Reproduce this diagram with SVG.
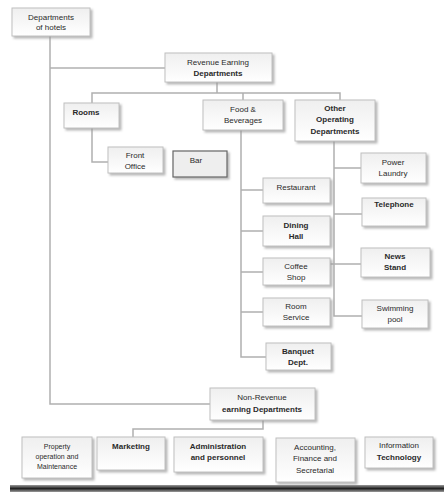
<svg xmlns="http://www.w3.org/2000/svg" width="444" height="493" viewBox="0 0 444 493">
<defs>
<linearGradient id="bx" x1="0" y1="0" x2="0" y2="1">
<stop offset="0" stop-color="#efefef"/><stop offset="1" stop-color="#ffffff"/>
</linearGradient>
<linearGradient id="bar" x1="0" y1="0" x2="0" y2="1">
<stop offset="0" stop-color="#9a9a9a"/><stop offset="0.5" stop-color="#222"/><stop offset="1" stop-color="#9a9a9a"/>
</linearGradient>
<filter id="sh" x="-10%" y="-10%" width="130%" height="140%">
<feDropShadow dx="2" dy="2" stdDeviation="0.8" flood-color="#999" flood-opacity="0.7"/>
</filter>
</defs>
<style>
.b{fill:url(#bx);stroke:#c0c0c0;stroke-width:1;filter:url(#sh)}
.dk{fill:#eeeeee;stroke:#666;stroke-width:1.2;filter:url(#sh)}
.t{font-family:"Liberation Sans",Arial,sans-serif;font-size:8px;fill:#2a2a2a;text-anchor:middle}
.bd{font-weight:bold}
#connectors path{fill:none;stroke:#b0b0b0;stroke-width:1.5}
</style>
<rect width="444" height="493" fill="#ffffff"/>
<g id="connectors">
<path d="M50 36 V404 H210"/>
<path d="M50 68 H165"/>
<path d="M217 82 V93 M92 103 V93 H340 V100 M243 93 V100"/>
<path d="M92 128 V162 H108"/>
<path d="M241 130 V357 H266 M241 190 H263 M241 231 H263 M241 272 H263 M241 312 H263"/>
<path d="M334 141 V316 H362 M334 168 H361 M334 214 H362 M330 264 H361"/>
<path d="M263 420 V429 H133 V437"/>
</g>
<g id="n-hotels"><rect class="b" x="12" y="8" width="78" height="28"/><text class="t" x="51" y="20">Departments</text><text class="t" x="51" y="30">of hotels</text></g>
<g id="n-revenue"><rect class="b" x="165" y="53" width="107" height="29"/><text class="t" x="218" y="65">Revenue Earning</text><text class="t bd" x="218" y="76">Departments</text></g>
<g id="n-rooms"><rect class="b" x="64" y="103" width="55" height="25"/><text class="t bd" x="86" y="115">Rooms</text></g>
<g id="n-fb"><rect class="b" x="203" y="100" width="80" height="30"/><text class="t" x="243" y="112">Food &amp;</text><text class="t" x="243" y="123">Beverages</text></g>
<g id="n-other"><rect class="b" x="295" y="100" width="80" height="41"/><text class="t bd" x="335" y="111">Other</text><text class="t bd" x="335" y="122">Operating</text><text class="t bd" x="335" y="134">Departments</text></g>
<g id="n-front"><rect class="b" x="108" y="147" width="55" height="26"/><text class="t" x="135" y="158">Front</text><text class="t" x="135" y="169">Office</text></g>
<g id="n-bar"><rect class="dk" x="173" y="151" width="54" height="26"/><text class="t" x="196" y="163">Bar</text></g>
<g id="n-restaurant"><rect class="b" x="263" y="178" width="67" height="25"/><text class="t" x="296" y="190">Restaurant</text></g>
<g id="n-dining"><rect class="b" x="263" y="216" width="67" height="30"/><text class="t bd" x="296" y="228">Dining</text><text class="t bd" x="296" y="239">Hall</text></g>
<g id="n-coffee"><rect class="b" x="263" y="258" width="67" height="27"/><text class="t" x="296" y="269">Coffee</text><text class="t" x="296" y="280">Shop</text></g>
<g id="n-roomservice"><rect class="b" x="263" y="298" width="67" height="28"/><text class="t" x="296" y="309">Room</text><text class="t" x="296" y="320">Service</text></g>
<g id="n-banquet"><rect class="b" x="266" y="343" width="65" height="27"/><text class="t bd" x="298" y="354">Banquet</text><text class="t bd" x="298" y="365">Dept.</text></g>
<g id="n-laundry"><rect class="b" x="361" y="153" width="65" height="30"/><text class="t" x="393" y="165">Power</text><text class="t" x="393" y="176">Laundry</text></g>
<g id="n-telephone"><rect class="b" x="362" y="198" width="64" height="28"/><text class="t bd" x="394" y="207">Telephone</text></g>
<g id="n-news"><rect class="b" x="361" y="248" width="69" height="29"/><text class="t bd" x="395" y="259">News</text><text class="t bd" x="395" y="270">Stand</text></g>
<g id="n-pool"><rect class="b" x="362" y="300" width="66" height="28"/><text class="t" x="395" y="311">Swimming</text><text class="t" x="395" y="322">pool</text></g>
<g id="n-nonrevenue"><rect class="b" x="210" y="388" width="105" height="32"/><text class="t" x="262" y="400">Non-Revenue</text><text class="t bd" x="262" y="412">earning Departments</text></g>
<g id="n-property"><rect class="b" x="22" y="437" width="70" height="41"/><text class="t" x="57" y="449" style="font-size:7px">Property</text><text class="t" x="57" y="459" style="font-size:7px">operation and</text><text class="t" x="57" y="469" style="font-size:7px">Maintenance</text></g>
<g id="n-marketing"><rect class="b" x="97" y="437" width="68" height="33"/><text class="t bd" x="131" y="449">Marketing</text></g>
<g id="n-admin"><rect class="b" x="174" y="437" width="89" height="35"/><text class="t bd" x="218" y="449">Administration</text><text class="t bd" x="218" y="460">and personnel</text></g>
<g id="n-accounting"><rect class="b" x="276" y="438" width="79" height="44"/><text class="t" x="315" y="450">Accounting,</text><text class="t" x="315" y="461">Finance and</text><text class="t" x="315" y="473">Secretarial</text></g>
<g id="n-it"><rect class="b" x="365" y="437" width="68" height="31"/><text class="t" x="399" y="448">Information</text><text class="t bd" x="399" y="460">Technology</text></g>
<rect x="10" y="485" width="434" height="7" fill="url(#bar)"/>
</svg>
